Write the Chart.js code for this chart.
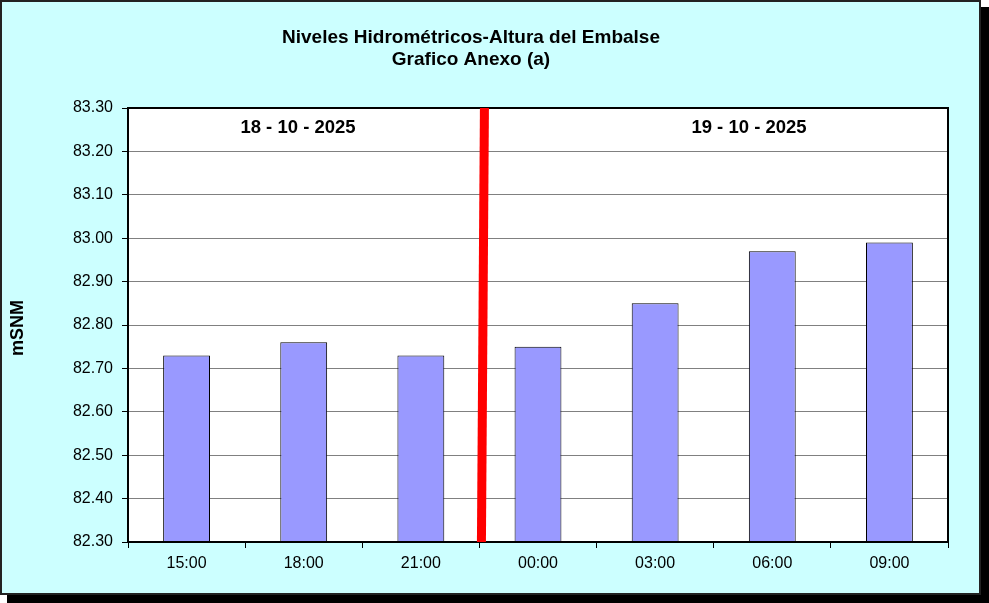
<!DOCTYPE html>
<html>
<head>
<meta charset="utf-8">
<script src="https://cdn.jsdelivr.net/npm/chart.js@4.4.1/dist/chart.umd.min.js"></script>
<style>
  html, body { margin: 0; padding: 0; background: #fff; }
  #wrap { width: 989px; height: 603px; position: relative; }
</style>
</head>
<body>
<div id="wrap"><canvas id="chart" width="989" height="603"></canvas></div>
<script>
const hourLabels = ["15:00", "18:00", "21:00", "00:00", "03:00", "06:00", "09:00"];
const levelValues = [82.73, 82.76, 82.73, 82.75, 82.85, 82.97, 82.99];
const titleLines = ["Niveles Hidrométricos-Altura del Embalse", "Grafico Anexo (a)"];
const dayLabels = ["18 - 10 - 2025", "19 - 10 - 2025"];
const axisTitle = "mSNM";

const fontFamily = "'Liberation Sans', Arial, sans-serif";

// frame, titles, plot border, day separator
const framePlugin = {
  id: "frame",
  beforeDraw(chart) {
    const ctx = chart.ctx;
    ctx.save();
    ctx.fillStyle = "#000";
    ctx.fillRect(7, 7, 982, 596);
    ctx.fillStyle = "#ccffff";
    ctx.fillRect(0, 0, 981, 595);
    ctx.strokeStyle = "#222";
    ctx.lineWidth = 2;
    ctx.strokeRect(1, 1, 979, 593);
    const area = chart.chartArea;
    ctx.fillStyle = "#fff";
    ctx.fillRect(area.left, area.top, area.right - area.left, area.bottom - area.top);
    ctx.restore();
  },
  afterDraw(chart) {
    const ctx = chart.ctx;
    const area = chart.chartArea;
    const x = chart.scales.x;
    ctx.save();
    // plot border
    ctx.strokeStyle = "#000";
    ctx.lineWidth = 2;
    ctx.strokeRect(area.left, area.top, area.right - area.left, area.bottom - area.top);

    // separator between the two days
    const sep = (x.getPixelForValue(2) + x.getPixelForValue(3)) / 2;
    ctx.fillStyle = "#ff0000";
    ctx.beginPath();
    ctx.moveTo(sep + 0.5, area.top);
    ctx.lineTo(sep + 9.5, area.top);
    ctx.lineTo(sep + 6.5, area.bottom);
    ctx.lineTo(sep - 2.5, area.bottom);
    ctx.closePath();
    ctx.fill();

    ctx.fillStyle = "#000";
    ctx.textAlign = "center";
    ctx.textBaseline = "middle";
    ctx.font = "bold 19px " + fontFamily;
    ctx.fillText(titleLines[0], 471, 38);
    ctx.fillText(titleLines[1], 471, 60);

    ctx.font = "bold 18.5px " + fontFamily;
    ctx.fillText(dayLabels[0], 298, 128);
    ctx.fillText(dayLabels[1], 749, 128);

    ctx.translate(18, (area.top + area.bottom) / 2 + 3);
    ctx.rotate(-Math.PI / 2);
    ctx.font = "bold 18px " + fontFamily;
    ctx.fillText(axisTitle, 0, 0);
    ctx.restore();
  }
};

new Chart(document.getElementById("chart"), {
  type: "bar",
  data: {
    labels: hourLabels,
    datasets: [
      {
        data: levelValues,
        backgroundColor: "#9999ff",
        borderColor: "#000",
        borderWidth: 1,
        borderSkipped: "bottom",
        categoryPercentage: 1,
        barPercentage: 0.4,
        base: 82.3
      }
    ]
  },
  options: {
    responsive: false,
    animation: false,
    layout: { padding: { top: 108, right: 41, bottom: 0, left: 0 } },
    plugins: {
      legend: { display: false },
      title: { display: false },
      tooltip: { enabled: false }
    },
    scales: {
      x: {
        offset: true,
        grid: {
          offset: true,
          drawOnChartArea: false,
          drawTicks: true,
          tickLength: 6,
          color: "#000"
        },
        border: { display: false },
        ticks: {
          color: "#000",
          font: { family: fontFamily, size: 16 },
          padding: 6,
          maxRotation: 0
        },
        afterFit(scale) { scale.height = 61; }
      },
      y: {
        min: 82.3,
        max: 83.3,
        grid: {
          color: "#808080",
          lineWidth: 1,
          tickLength: 6,
          tickColor: "#000"
        },
        border: { display: false },
        ticks: {
          stepSize: 0.1,
          color: "#000",
          font: { family: fontFamily, size: 16 },
          padding: 9,
          callback: (v) => Number(v).toFixed(2)
        },
        afterFit(scale) { scale.width = 128; }
      }
    }
  },
  plugins: [framePlugin]
});
</script>
</body>
</html>
